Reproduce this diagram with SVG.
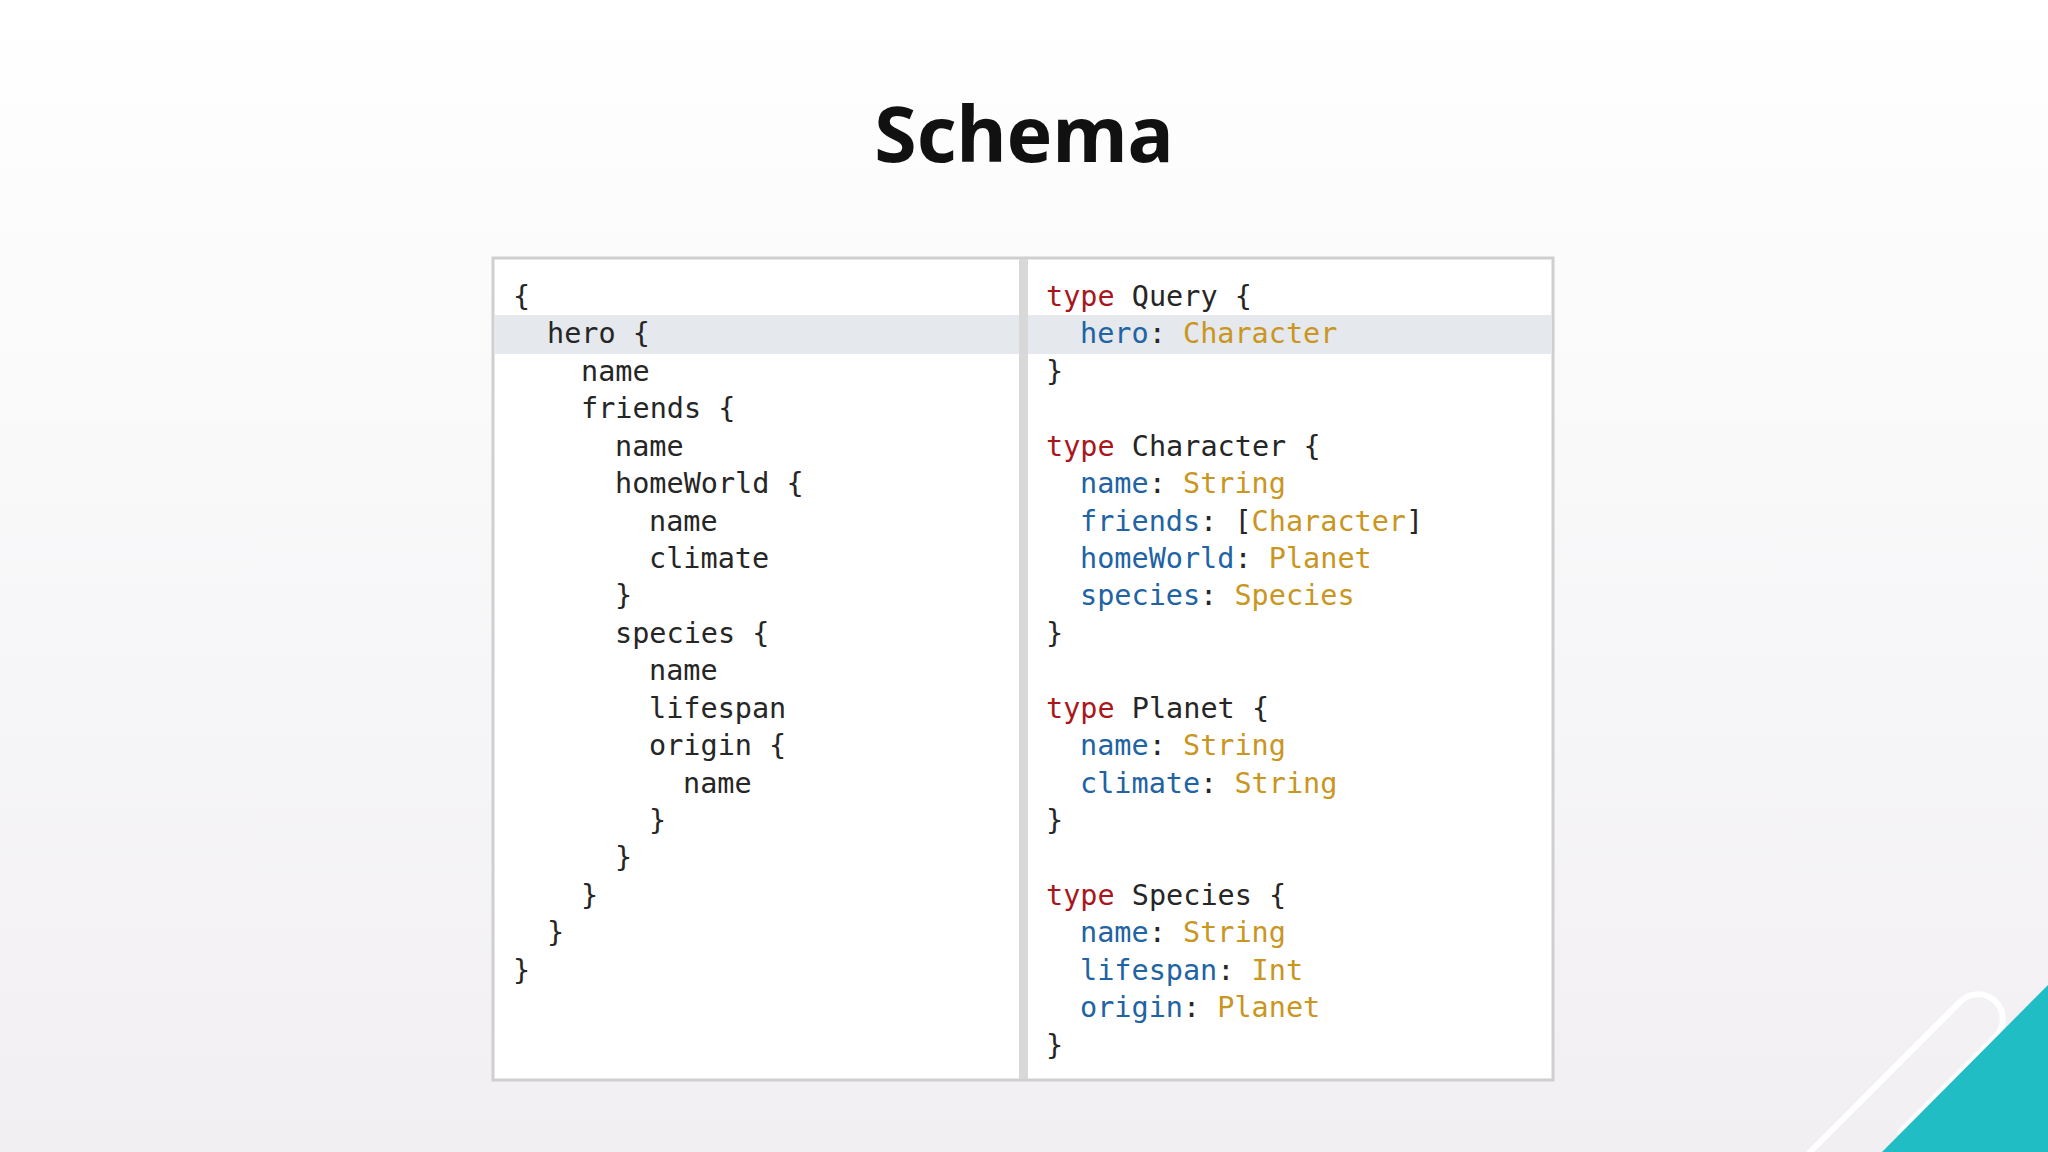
<svg xmlns="http://www.w3.org/2000/svg" width="2048" height="1152" viewBox="0 0 2048 1152">
<defs>
<linearGradient id="bg" x1="0" y1="0" x2="0" y2="1"><stop offset="0" stop-color="#ffffff"/><stop offset="1" stop-color="#f1eff2"/></linearGradient>
<style>
.c{font-family:"DejaVu Sans Mono","Liberation Mono",monospace;font-size:28.5px;fill:#262626}
.k{fill:#a8171c}.f{fill:#2163a3}.t{fill:#c9961f}
</style>
</defs>
<rect width="2048" height="1152" fill="url(#bg)"/>
<text x="1024" y="162" text-anchor="middle" font-family="'Noto Sans','Open Sans',sans-serif" font-weight="bold" font-size="77" fill="#111">Schema</text>
<g id="panel">
<rect x="493" y="258" width="1060" height="822" fill="#fff" stroke="#cfcfcf" stroke-width="3"/>
<rect x="494" y="315" width="1058" height="39" fill="#e5e8ec"/>
<rect x="1019" y="259" width="9" height="820" fill="#d8d8d8"/>
</g>
<g id="query" class="c">
<text x="513" y="306">{</text>
<text x="547" y="343">hero {</text>
<text x="581" y="381">name</text>
<text x="581" y="418">friends {</text>
<text x="615" y="456">name</text>
<text x="615" y="493">homeWorld {</text>
<text x="649" y="531">name</text>
<text x="649" y="568">climate</text>
<text x="615" y="605">}</text>
<text x="615" y="643">species {</text>
<text x="649" y="680">name</text>
<text x="649" y="718">lifespan</text>
<text x="649" y="755">origin {</text>
<text x="683" y="793">name</text>
<text x="649" y="830">}</text>
<text x="615" y="867">}</text>
<text x="581" y="905">}</text>
<text x="547" y="942">}</text>
<text x="513" y="980">}</text>
</g>
<g id="schema" class="c">
<text x="1046" y="306"><tspan class="k">type</tspan> Query {</text>
<text x="1080" y="343"><tspan class="f">hero</tspan>: <tspan class="t">Character</tspan></text>
<text x="1046" y="381">}</text>
<text x="1046" y="456"><tspan class="k">type</tspan> Character {</text>
<text x="1080" y="493"><tspan class="f">name</tspan>: <tspan class="t">String</tspan></text>
<text x="1080" y="531"><tspan class="f">friends</tspan>: [<tspan class="t">Character</tspan>]</text>
<text x="1080" y="568"><tspan class="f">homeWorld</tspan>: <tspan class="t">Planet</tspan></text>
<text x="1080" y="605"><tspan class="f">species</tspan>: <tspan class="t">Species</tspan></text>
<text x="1046" y="643">}</text>
<text x="1046" y="718"><tspan class="k">type</tspan> Planet {</text>
<text x="1080" y="755"><tspan class="f">name</tspan>: <tspan class="t">String</tspan></text>
<text x="1080" y="793"><tspan class="f">climate</tspan>: <tspan class="t">String</tspan></text>
<text x="1046" y="830">}</text>
<text x="1046" y="905"><tspan class="k">type</tspan> Species {</text>
<text x="1080" y="942"><tspan class="f">name</tspan>: <tspan class="t">String</tspan></text>
<text x="1080" y="980"><tspan class="f">lifespan</tspan>: <tspan class="t">Int</tspan></text>
<text x="1080" y="1017"><tspan class="f">origin</tspan>: <tspan class="t">Planet</tspan></text>
<text x="1046" y="1055">}</text>
</g>
<path d="M1810 1152 L1960 1002 A24 24 0 0 1 1996 1036 L1900 1132" fill="none" stroke="#fff" stroke-width="6" stroke-linecap="round"/>
<polygon points="2048,985 2048,1152 1882,1152" fill="#20bdc5"/>
</svg>
